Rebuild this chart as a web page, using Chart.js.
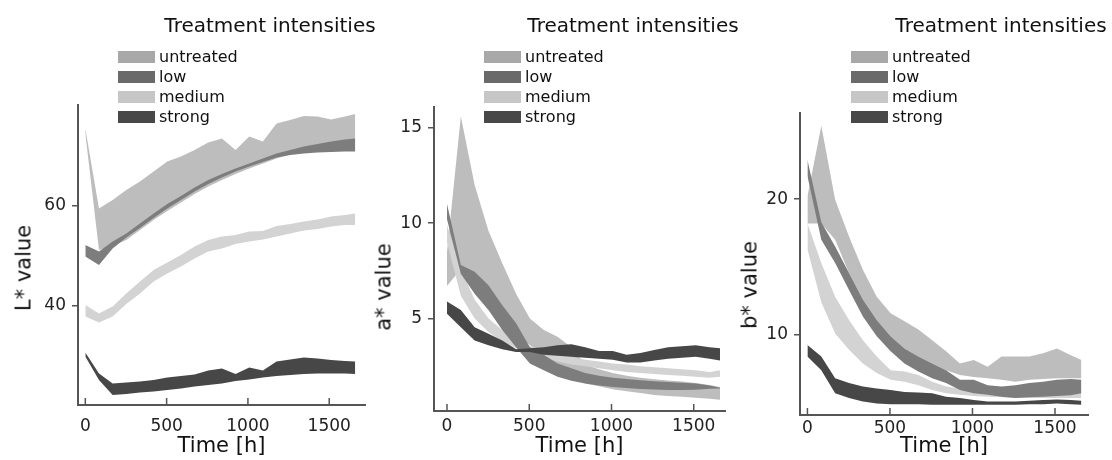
<!DOCTYPE html>
<html>
<head>
<meta charset="utf-8">
<script src="https://cdn.jsdelivr.net/npm/chart.js@4.4.1/dist/chart.umd.min.js"></script>
<style>
  body { margin: 0; background: #fff; font-family: "DejaVu Sans", sans-serif; color: #111; }
  #wrap { position: relative; width: 1112px; height: 460px; overflow: hidden; }
  canvas { position: absolute; top: 0; }
  .ttl { position: absolute; top: 12px; font-size: 20px; white-space: nowrap; transform: translateX(-50%); line-height: 26px; }
  .ytl { position: absolute; font-size: 21px; white-space: nowrap; line-height: 1; transform: translate(-50%, -50%) rotate(-90deg); }
  .leg { position: absolute; top: 47px; font-size: 16px; }
  .row { height: 20px; line-height: 20px; white-space: nowrap; }
  .box { display: inline-block; width: 37px; height: 12px; vertical-align: -1px; margin-right: 4px; }
</style>
</head>
<body>
<div id="wrap">
  <canvas id="pL" width="370" height="460" style="left:0"></canvas>
  <canvas id="pA" width="370" height="460" style="left:370px"></canvas>
  <canvas id="pB" width="372" height="460" style="left:740px"></canvas>
</div>
<script>
// time points [h]
var times = [0, 84, 168, 252, 336, 420, 504, 588, 672, 756, 840, 924, 1008, 1092, 1176, 1260, 1344, 1428, 1512, 1596, 1660];

var seriesNames = ["untreated", "low", "medium", "strong"];
var legendColors = ["#a8a8a8", "#6a6a6a", "#c6c6c6", "#484848"];
var bandColors = ["#bdbdbd", "#7d7d7d", "#d3d3d3", "#474747"];

var xTicks = [0, 500, 1000, 1500];
var yTicksL = [40, 60];
var yTicksA = [5, 10, 15];
var yTicksB = [10, 20];

// L* value bands (upper / lower edge)
var untreatedL_hi = [75.5, 59.5, 61.2, 63.2, 64.9, 66.9, 68.9, 69.9, 71.2, 72.7, 73.5, 71.2, 73.9, 72.9, 76.5, 77.2, 78.0, 77.9, 77.3, 77.9, 78.4];
var untreatedL_lo = [74.5, 51.2, 52.0, 53.2, 55.2, 57.2, 59.0, 60.7, 62.4, 63.9, 65.2, 66.4, 67.5, 68.5, 69.5, 70.3, 71.0, 71.6, 72.1, 72.5, 72.8];
var lowL_hi = [52.2, 50.9, 52.9, 54.5, 56.5, 58.5, 60.4, 62.0, 63.7, 65.2, 66.4, 67.5, 68.5, 69.5, 70.5, 71.2, 71.9, 72.4, 72.9, 73.3, 73.5];
var lowL_lo = [49.9, 48.2, 51.5, 53.7, 55.6, 57.6, 59.5, 61.2, 62.9, 64.4, 65.7, 66.9, 67.9, 68.8, 69.7, 70.2, 70.5, 70.7, 70.8, 70.9, 70.9];
var mediumL_hi = [40.2, 38.5, 39.9, 42.5, 44.9, 47.2, 48.7, 50.2, 51.9, 53.2, 53.9, 54.2, 54.9, 55.0, 56.0, 56.4, 56.9, 57.3, 57.9, 58.2, 58.5];
var mediumL_lo = [37.9, 36.7, 37.9, 40.4, 42.5, 44.9, 46.5, 47.9, 49.5, 50.9, 51.5, 52.4, 52.9, 53.3, 53.9, 54.5, 55.1, 55.4, 55.9, 56.2, 56.2];
var strongL_hi = [30.7, 26.5, 24.5, 24.7, 24.9, 25.2, 25.7, 26.0, 26.3, 27.1, 27.5, 26.4, 27.7, 27.1, 28.9, 29.3, 29.7, 29.5, 29.2, 29.0, 28.9];
var strongL_lo = [29.9, 25.2, 22.2, 22.4, 22.7, 22.9, 23.2, 23.5, 23.9, 24.2, 24.5, 25.0, 25.3, 25.7, 26.0, 26.2, 26.4, 26.5, 26.5, 26.5, 26.4];

// a* value bands
var untreatedA_hi = [8.5, 15.6, 12.0, 9.6, 7.9, 6.3, 5.0, 4.4, 4.05, 3.5, 2.6, 2.35, 2.15, 2.0, 1.9, 1.82, 1.76, 1.7, 1.62, 1.52, 1.42];
var untreatedA_lo = [6.7, 7.6, 7.0, 6.0, 5.0, 4.2, 3.6, 3.1, 2.6, 2.0, 1.6, 1.45, 1.3, 1.2, 1.1, 1.0, 0.95, 0.9, 0.85, 0.8, 0.75];
var lowA_hi = [11.0, 7.8, 7.45, 6.75, 5.7, 4.75, 3.5, 3.1, 2.65, 2.4, 2.15, 2.0, 1.9, 1.83, 1.77, 1.72, 1.68, 1.64, 1.6, 1.5, 1.38];
var lowA_lo = [10.2, 7.35, 6.3, 5.45, 4.4, 3.5, 2.65, 2.3, 1.95, 1.75, 1.6, 1.5, 1.42, 1.36, 1.31, 1.28, 1.26, 1.26, 1.27, 1.32, 1.34];
var mediumA_hi = [9.9, 7.6, 6.0, 5.0, 4.4, 3.9, 3.55, 3.35, 3.15, 3.0, 2.85, 2.75, 2.65, 2.6, 2.5, 2.45, 2.4, 2.35, 2.3, 2.2, 2.3];
var mediumA_lo = [9.0, 6.2, 5.0, 4.3, 3.8, 3.45, 3.15, 2.95, 2.75, 2.6, 2.5, 2.4, 2.3, 2.2, 2.15, 2.1, 2.05, 2.0, 1.95, 1.9, 1.95];
var strongA_hi = [5.9, 5.45, 4.55, 4.2, 3.85, 3.4, 3.45, 3.5, 3.6, 3.65, 3.5, 3.3, 3.3, 3.1, 3.2, 3.35, 3.5, 3.55, 3.6, 3.5, 3.45];
var strongA_lo = [5.25, 4.55, 3.85, 3.6, 3.4, 3.25, 3.25, 3.1, 3.05, 3.0, 2.95, 2.9, 2.85, 2.7, 2.7, 2.8, 2.9, 2.95, 3.0, 2.9, 2.8];

// b* value bands
var untreatedB_hi = [20.2, 25.4, 19.95, 17.25, 14.8, 12.8, 11.6, 11.0, 10.4, 9.6, 8.8, 7.9, 8.15, 7.65, 8.4, 8.4, 8.4, 8.65, 9.0, 8.5, 8.15];
var untreatedB_lo = [18.2, 18.2, 17.0, 14.55, 12.6, 11.1, 9.9, 9.0, 8.4, 7.9, 7.4, 7.05, 6.9, 6.8, 6.7, 6.55, 6.7, 6.75, 6.8, 6.8, 6.8];
var lowB_hi = [22.9, 18.3, 16.5, 14.55, 12.6, 11.1, 9.9, 9.0, 8.4, 7.9, 7.4, 6.7, 6.7, 6.3, 6.2, 6.3, 6.45, 6.55, 6.7, 6.75, 6.7];
var lowB_lo = [21.7, 17.0, 15.3, 13.3, 11.35, 9.9, 8.8, 7.9, 7.3, 6.8, 6.45, 5.95, 5.7, 5.6, 5.45, 5.35, 5.4, 5.45, 5.5, 5.55, 5.7];
var mediumB_hi = [18.2, 15.3, 12.8, 11.1, 9.6, 8.4, 7.4, 7.3, 7.05, 6.55, 6.2, 6.05, 5.95, 5.85, 5.8, 5.75, 5.75, 5.75, 5.75, 5.75, 5.75];
var mediumB_lo = [16.3, 12.4, 10.1, 8.9, 7.9, 7.2, 6.7, 6.55, 6.3, 5.95, 5.7, 5.6, 5.5, 5.45, 5.4, 5.35, 5.35, 5.35, 5.35, 5.35, 5.35];
var strongB_hi = [9.25, 8.4, 6.8, 6.45, 6.2, 6.05, 5.95, 5.8, 5.75, 5.7, 5.45, 5.35, 5.2, 5.1, 5.1, 5.1, 5.15, 5.2, 5.25, 5.2, 5.15];
var strongB_lo = [8.4, 7.4, 5.7, 5.35, 5.1, 4.95, 4.9, 4.9, 4.9, 4.85, 4.85, 4.85, 4.85, 4.85, 4.85, 4.85, 4.9, 4.9, 4.95, 4.9, 4.85];

Chart.defaults.font.family = "'DejaVu Sans', sans-serif";
Chart.defaults.color = "#222";

function pts(arr) {
  return arr.map(function(v, i) { return { x: times[i], y: v }; });
}

// one band = lower edge (no fill) + upper edge filled down to it
function band(hi, lo, color, order) {
  return [
    { data: pts(lo), borderWidth: 0, pointRadius: 0, fill: false, order: order },
    { data: pts(hi), borderWidth: 0, pointRadius: 0, fill: "-1", backgroundColor: color, order: order }
  ];
}

// x tick marks point into the plot
var innerTicks = {
  id: "innerTicks",
  afterDraw: function(chart) {
    var sx = chart.scales.x;
    var ctx = chart.ctx;
    var b = chart.chartArea.bottom;
    ctx.save();
    ctx.strokeStyle = "#555";
    ctx.lineWidth = 1.5;
    sx.ticks.forEach(function(t) {
      var px = sx.getPixelForValue(t.value);
      ctx.beginPath();
      ctx.moveTo(px, b);
      ctx.lineTo(px, b - 7);
      ctx.stroke();
    });
    ctx.restore();
  }
};

function makePanel(id, p) {
  // untreated at the bottom, strong on top
  var datasets = []
    .concat(band(p.bands[0][0], p.bands[0][1], bandColors[0], 4))
    .concat(band(p.bands[2][0], p.bands[2][1], bandColors[2], 3))
    .concat(band(p.bands[1][0], p.bands[1][1], bandColors[1], 2))
    .concat(band(p.bands[3][0], p.bands[3][1], bandColors[3], 1));

  new Chart(document.getElementById(id), {
    type: "line",
    data: { datasets: datasets },
    plugins: [innerTicks],
    options: {
      responsive: false,
      animation: false,
      layout: { padding: { top: p.top, right: p.right, left: 0, bottom: 0 } },
      plugins: { legend: { display: false }, tooltip: { enabled: false } },
      elements: { line: { tension: 0 } },
      scales: {
        x: {
          type: "linear",
          min: p.xmin,
          max: p.xmax,
          afterBuildTicks: function(s) { s.ticks = xTicks.map(function(v) { return { value: v }; }); },
          afterFit: function(s) { s.height = p.xh; },
          grid: { display: false, drawTicks: false },
          border: { display: true, color: "#555", width: 2 },
          ticks: {
            padding: p.xpad,
            color: "#222",
            font: { size: 17 },
            callback: function(v) { return String(v); }
          },
          title: { display: true, text: "Time [h]", color: "#111", font: { size: 21 }, padding: { top: 0, bottom: 1 } }
        },
        y: {
          min: p.ymin,
          max: p.ymax,
          afterBuildTicks: function(s) { s.ticks = p.yTicks.map(function(v) { return { value: v }; }); },
          afterFit: function(s) { s.width = p.yw; },
          grid: { drawOnChartArea: false, tickLength: 6, color: "#555", lineWidth: 1.5 },
          border: { color: "#555", width: 2 },
          ticks: { padding: 6, color: "#222", font: { size: 17 } }
        }
      }
    }
  });
}

makePanel("pL", {
  bands: [[untreatedL_hi, untreatedL_lo], [lowL_hi, lowL_lo], [mediumL_hi, mediumL_lo], [strongL_hi, strongL_lo]],
  yTicks: yTicksL, ymin: 20.2, ymax: 80.2, xmin: -45, xmax: 1720,
  top: 105, right: 5, yw: 78, xh: 55, xpad: 11
});
makePanel("pA", {
  bands: [[untreatedA_hi, untreatedA_lo], [lowA_hi, lowA_lo], [mediumA_hi, mediumA_lo], [strongA_hi, strongA_lo]],
  yTicks: yTicksA, ymin: 0.16, ymax: 16.08, xmin: -79, xmax: 1690,
  top: 107, right: 15, yw: 64, xh: 49, xpad: 5
});
makePanel("pB", {
  bands: [[untreatedB_hi, untreatedB_lo], [lowB_hi, lowB_lo], [mediumB_hi, mediumB_lo], [strongB_hi, strongB_lo]],
  yTicks: yTicksB, ymin: 4.1, ymax: 26.34, xmin: -45, xmax: 1700,
  top: 113, right: 24, yw: 60, xh: 45, xpad: 3
});

// titles, legends and y axis titles
var wrap = document.getElementById("wrap");
var titleX = [270, 633, 1001];
var legendX = [118, 484, 851];
var yTitles = ["L* value", "a* value", "b* value"];
var yTitlePos = [[24, 268], [384, 287], [750, 285]];

for (var k = 0; k < 3; k++) {
  var t = document.createElement("div");
  t.className = "ttl";
  t.style.left = titleX[k] + "px";
  t.textContent = "Treatment intensities";
  wrap.appendChild(t);

  var leg = document.createElement("div");
  leg.className = "leg";
  leg.style.left = legendX[k] + "px";
  seriesNames.forEach(function(name, i) {
    var row = document.createElement("div");
    row.className = "row";
    row.innerHTML = '<span class="box" style="background:' + legendColors[i] + '"></span>' + name;
    leg.appendChild(row);
  });
  wrap.appendChild(leg);

  var yt = document.createElement("div");
  yt.className = "ytl";
  yt.style.left = yTitlePos[k][0] + "px";
  yt.style.top = yTitlePos[k][1] + "px";
  yt.textContent = yTitles[k];
  wrap.appendChild(yt);
}
</script>
</body>
</html>
